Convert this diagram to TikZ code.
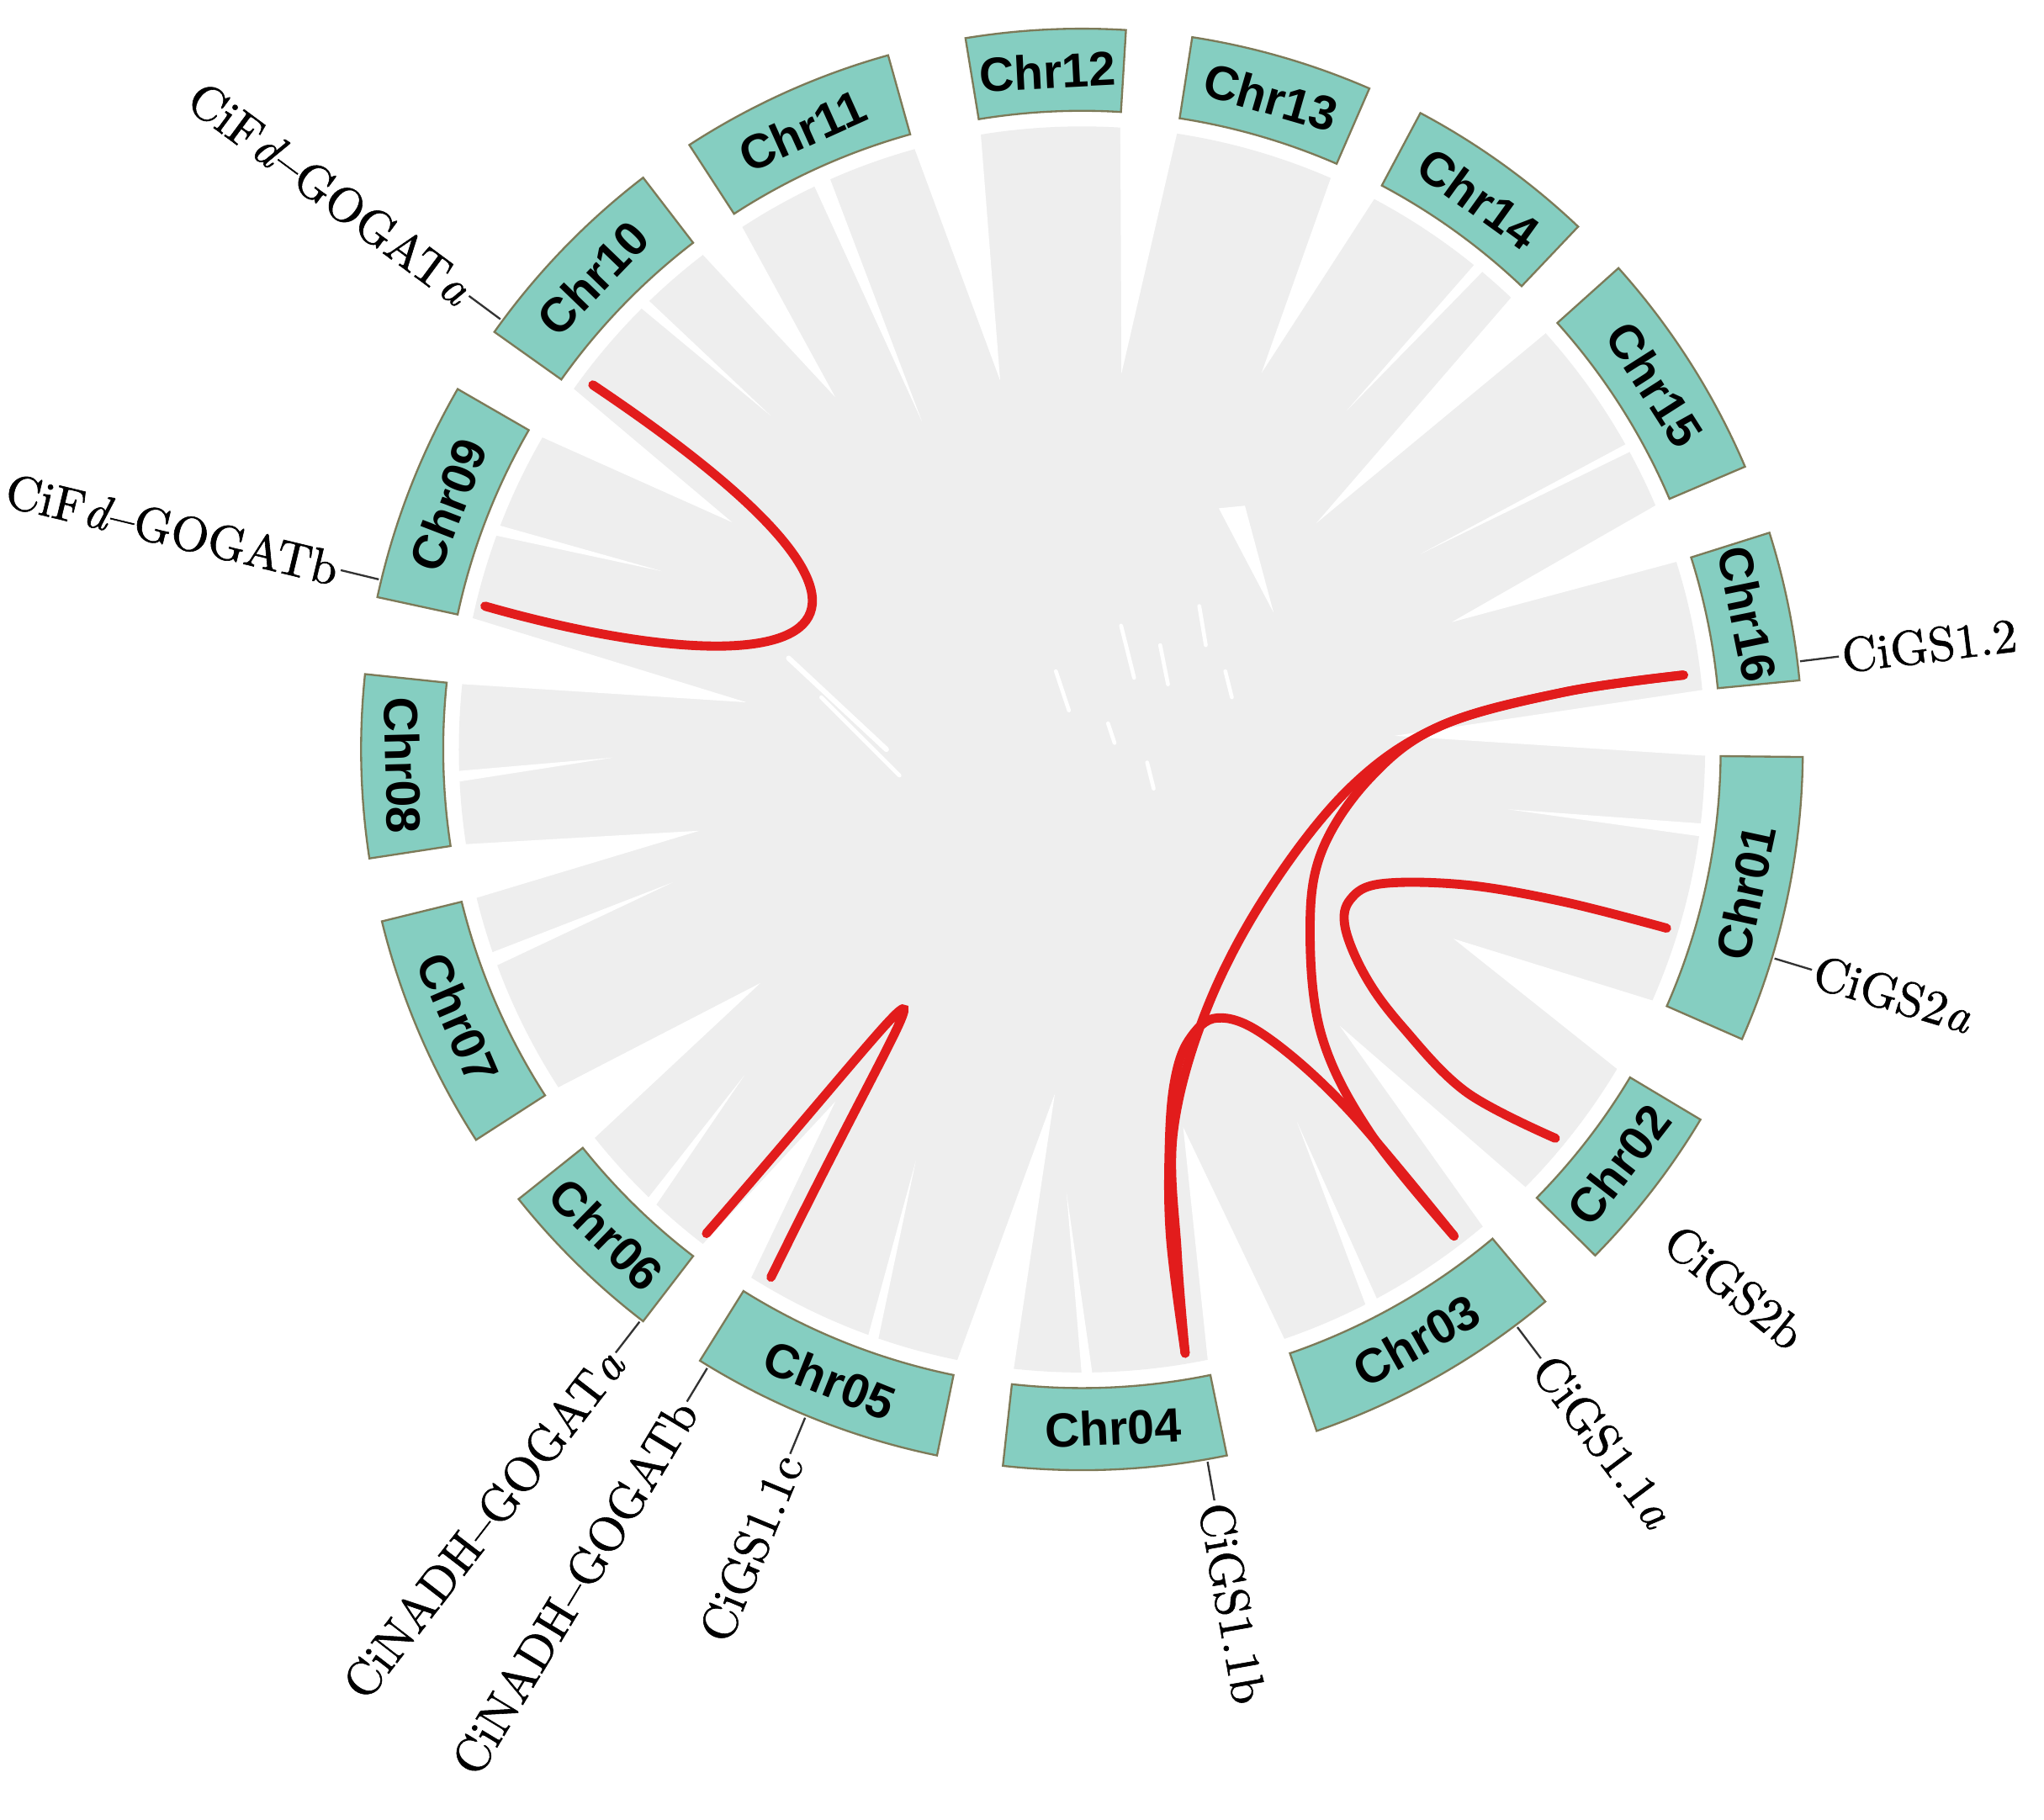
\documentclass[tikz,border=0pt]{standalone}
\usepackage{fontspec}
\newfontfamily\chrfont{Liberation Sans}
\newfontfamily\genefont{Latin Modern Roman}[Ligatures=TeX, FakeBold=1]
\definecolor{chrfill}{RGB}{133,206,193}
\definecolor{chrline}{RGB}{125,122,88}
\definecolor{linkgrey}{RGB}{238,238,238}
\definecolor{linkred}{RGB}{226,28,28}
\newcommand\gapwedge[4]{\fill[white] (#1:482) arc[start angle=#1, end angle=#2, radius=482] -- (#3:#4) -- cycle;}
\newcommand\chrom[4]{%
  \draw[chrbox] (#2:490) arc[start angle=#2, end angle=#3, radius=490] -- (#3:553) arc[start angle=#3, end angle=#2, radius=553] -- cycle;
  \node[chrlabel, rotate=#4] (c#1) at ({(#2+#3)/2}:521) {Chr#1};}
\tikzset{
  chrbox/.style={fill=chrfill, draw=chrline, line width=0.15mm},
  chrlabel/.style={font=\chrfont\bfseries\fontsize{10.5}{12}\selectfont, inner sep=0pt},
  genelabel/.style={font=\genefont\fontsize{10.6}{13}\selectfont, inner sep=0.5pt},
  genetick/.style={draw=black!80, line width=0.15mm},
  redlink/.style={draw=linkred, line width=0.7mm, line cap=round},
  speck/.style={draw=white, line cap=round},
}
\begin{document}
\begin{tikzpicture}[x=0.1mm, y=0.1mm]
\useasboundingbox (-830,-821) rectangle (738,575);
\fill[white] (-830,-821) rectangle (738,575);

% grey synteny background
\fill[linkgrey] (0,0) circle[radius=478];
\gapwedge{-0.6}{5.5}{2.5}{240}
\gapwedge{17.5}{23.1}{19}{300}
\gapwedge{41.9}{46.5}{44}{250}
\gapwedge{62}{66.5}{64.5}{320}
\gapwedge{81.2}{86.5}{84}{290}
\gapwedge{99.3}{105.6}{102.5}{290}
\gapwedge{123}{127.5}{125}{330}
\gapwedge{144.6}{150}{147}{320}
\gapwedge{167.8}{174}{172}{260}
\gapwedge{188.7}{193.8}{192}{300}
\gapwedge{212.8}{218.6}{216}{305}
\gapwedge{232.5}{238}{235}{330}
\gapwedge{258.4}{263.7}{265.5}{265}
\gapwedge{281.6}{289}{285}{300}
\gapwedge{310}{315.4}{313}{290}
\gapwedge{329.1}{336.3}{333}{320}
% thin inner slivers
\gapwedge{113.8}{115.4}{116}{280}
\gapwedge{50}{51}{52}{330}
\gapwedge{-8}{-6.8}{-8}{330}
\gapwedge{-63}{-61.8}{-60}{330}
\gapwedge{270}{271}{268}{340}
\gapwedge{250}{251}{248}{340}
\gapwedge{199}{200.3}{198}{330}
\gapwedge{159}{160}{157}{350}
\gapwedge{134}{135}{133}{350}
\gapwedge{226}{227}{224}{360}
\gapwedge{28.5}{29.3}{30}{300}
\gapwedge{182}{183}{181}{360}
% small white specks in the centre
\draw[speck, line width=0.4mm] (-225,70) -- (-150,0);
\draw[speck, line width=0.3mm] (-200,40) -- (-140,-20);
\draw[speck, line width=0.3mm] (30,95) -- (40,55);
\draw[speck, line width=0.3mm] (60,80) -- (66,50);
\draw[speck, line width=0.3mm] (90,110) -- (95,80);
\draw[speck, line width=0.3mm] (-20,60) -- (-10,30);
\draw[speck, line width=0.3mm] (110,60) -- (115,40);
\draw[speck, line width=0.3mm] (20,20) -- (25,5);
\draw[speck, line width=0.3mm] (50,-10) -- (55,-30);
\fill[white] (105,185) -- (125,187) -- (147,105) -- cycle;

% chromosomes
\chrom{01}{-23.7}{-0.6}{77.85}
\chrom{02}{-44.6}{-30.9}{52.25}
\chrom{03}{-71}{-50}{29.5}
\chrom{04}{-96.3}{-78.4}{2.65}
\chrom{05}{238}{258.4}{-21.8}
\chrom{06}{218.6}{232.5}{-44.45}
\chrom{07}{193.8}{212.8}{-66.7}
\chrom{08}{174}{188.7}{-88.65}
\chrom{09}{150}{167.8}{68.9}
\chrom{10}{127.5}{144.6}{46.05}
\chrom{11}{105.6}{123}{24.3}
\chrom{12}{86.5}{99.3}{2.9}
\chrom{13}{66.5}{81.2}{-16.15}
\chrom{14}{46.5}{62}{-35.75}
\chrom{15}{23.1}{41.9}{-57.5}
\chrom{16}{5.5}{17.5}{-78.5}

% link end points
\coordinate (Fa) at (143.3:468);
\coordinate (Fb) at (166.5:471);
\coordinate (Na) at (232.2:470);
\coordinate (Nb) at (239.5:470);
\coordinate (S16) at (7.05:465);
\coordinate (S04) at (-80.3:470);
\coordinate (S03) at (-52.6:470);
\coordinate (S01) at (-17:469);
\coordinate (S02) at (-39.4:470);

% red links
\draw[redlink] (Fa) .. controls (-70,75) and (-230,45) .. (Fb);
\draw[redlink] (Na) .. controls (-80,-132) and (-109,-141) .. (Nb);
\draw[redlink] plot[smooth, tension=0.6] coordinates {(S16) (370,44) (275,18) (205,-30) (141,-112) (95,-201) (70,-294) (73,-386) (S04)};
\draw[redlink] plot[smooth, tension=0.6] coordinates {(S16) (370,44) (275,18) (221,-22) (184,-78) (175,-139) (184,-220) (221,-294) (S03)};
\draw[redlink] plot[smooth, tension=0.6] coordinates {(S01) (370,-117) (295,-104) (230,-103) (206,-115) (202,-137) (218,-175) (246,-213) (295,-263) (S02)};
\draw[redlink] plot[smooth, tension=0.6] coordinates {(S04) (68,-375) (67,-305) (71,-255) (82,-223) (104,-206) (141,-220) (203,-275) (S03)};

% gene labels
\coordinate (tFa) at (143.5:555);
\node[genelabel, anchor=east, rotate=-36.5] (gFa) at (143.5:585) {CiF\textit{d}--GOGAT\textit{a}};
\draw[genetick] (tFa) -- (gFa.east);
\coordinate (tFb) at (166.4:555);
\node[genelabel, anchor=east, rotate=-13.6] (gFb) at (166.4:585) {CiF\textit{d}--GOGATb};
\draw[genetick] (tFb) -- (gFb.east);
\coordinate (tG12) at (7:555);
\node[genelabel, anchor=west, rotate=7] (gG12) at (7:585) {CiGS1.2};
\draw[genetick] (tG12) -- (gG12.west);
\coordinate (tG2a) at (-16.8:555);
\node[genelabel, anchor=west, rotate=-16.8] (gG2a) at (-16.8:585) {CiGS2\textit{a}};
\draw[genetick] (tG2a) -- (gG2a.west);
\node[genelabel, anchor=west, rotate=-39.5] (gG2b) at (-39.5:583) {CiGS2b};
\coordinate (tG11a) at (-53:555);
\node[genelabel, anchor=west, rotate=-53] (gG11a) at (-53:585) {CiGS1.1\textit{a}};
\draw[genetick] (tG11a) -- (gG11a.west);
\coordinate (tG11b) at (-80:555);
\node[genelabel, anchor=west, rotate=-80] (gG11b) at (-80:585) {CiGS1.1b};
\draw[genetick] (tG11b) -- (gG11b.west);
\coordinate (tG11c) at (247.5:555);
\node[genelabel, anchor=east, rotate=67.5] (gG11c) at (247.5:585) {CiGS1.1c};
\draw[genetick] (tG11c) -- (gG11c.east);
\coordinate (tNb) at (238.8:555);
\node[genelabel, anchor=east, rotate=58.8] (gNb) at (238.8:585) {CiNADH--GOGATb};
\draw[genetick] (tNb) -- (gNb.east);
\coordinate (tNa) at (232.3:555);
\node[genelabel, anchor=east, rotate=52.3] (gNa) at (232.3:585) {CiNADH--GOGAT\textit{a}};
\draw[genetick] (tNa) -- (gNa.east);
\end{tikzpicture}
\end{document}
